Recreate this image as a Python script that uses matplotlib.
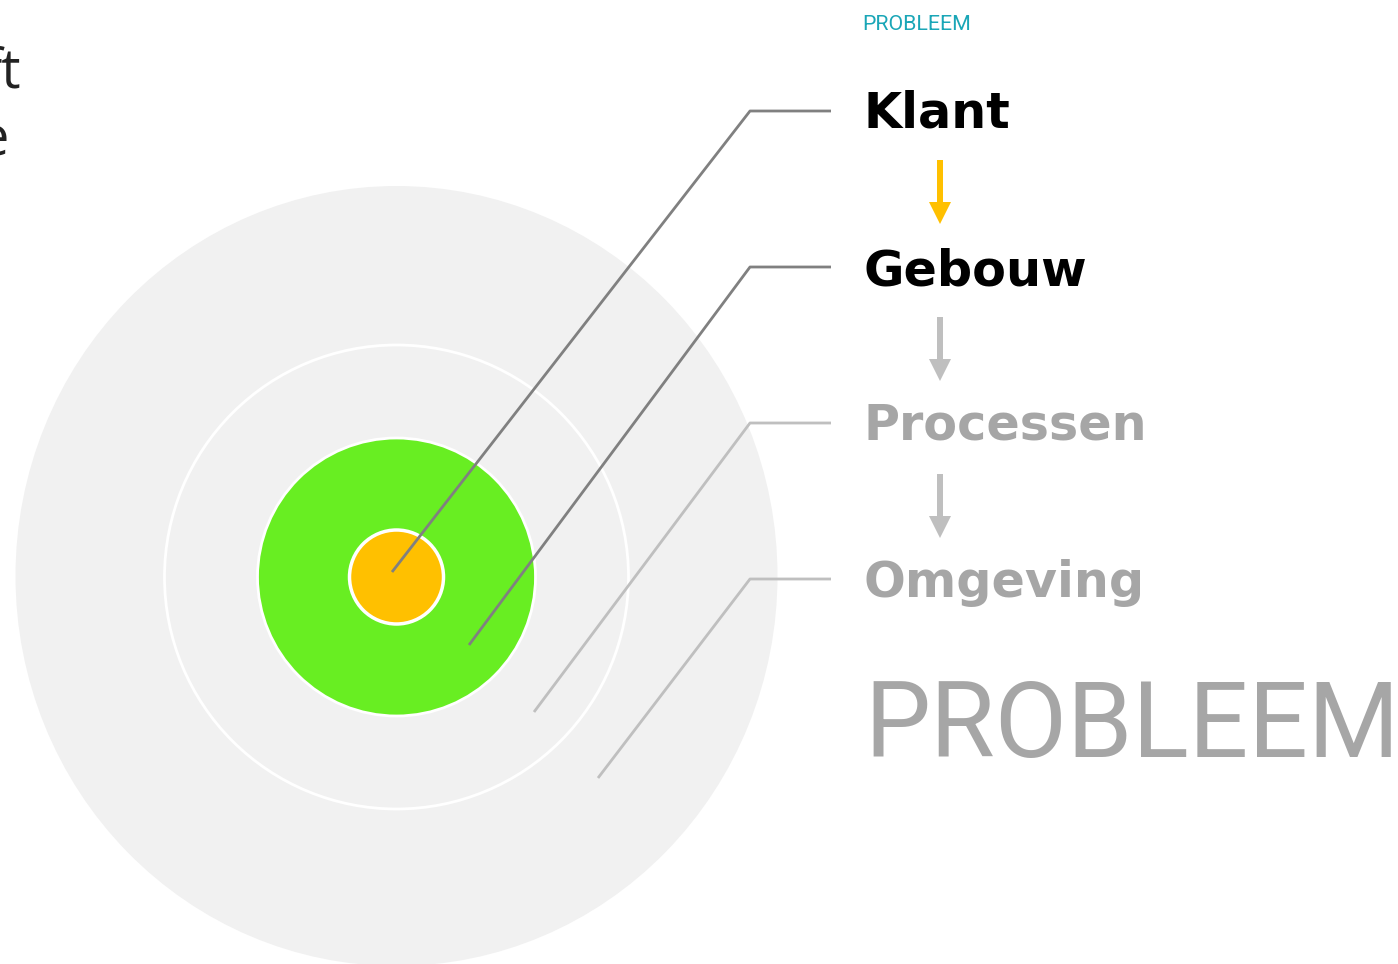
import matplotlib.pyplot as plt
from matplotlib.patches import Circle, Ellipse, FancyArrow

# ring layers from outside to inside
labels = ["Klant", "Gebouw", "Processen", "Omgeving"]
label_colors = ["#000000", "#000000", "#A6A6A6", "#A6A6A6"]
line_colors = ["#808080", "#808080", "#BFBFBF", "#BFBFBF"]
arrow_colors = ["#FFC000", "#BFBFBF", "#BFBFBF"]
ring_radius = [232, 139, 47]
ring_colors = ["#F1F1F1", "#68EE22", "#FFC000"]

cx, cy = 396.5, 577

fig = plt.figure(figsize=(13.98, 9.64), dpi=100)
ax = fig.add_axes([0, 0, 1, 1])
ax.set_xlim(0, 1398)
ax.set_ylim(964, 0)
ax.axis("off")

# outer grey disc
ax.add_patch(Ellipse((cx, 576), 762, 780, facecolor="#F1F1F1", edgecolor="none", zorder=1))
for r, c, lw in zip(ring_radius, ring_colors, [2, 2, 2.5]):
    ax.add_patch(Circle((cx, cy), r, facecolor=c, edgecolor="white", lw=lw, zorder=2))

# leader lines: start point inside ring, then elbow at x=750
starts = [(392, 572), (469, 645), (534, 712), (598, 778)]
label_y = [111, 267, 423, 579]
for (sx, sy), ly, lc in zip(starts, label_y, line_colors):
    ax.plot([sx, 750, 831], [sy, ly, ly], color=lc, lw=2, solid_capstyle="butt", zorder=3)

baselines = [128, 285, 440, 597]
for lab, by, col in zip(labels, baselines, label_colors):
    ax.text(863, by, lab, color=col, fontsize=35.5, fontweight="bold",
            family="DejaVu Sans", va="baseline", ha="left")

# arrows between labels
for i, ac in enumerate(arrow_colors):
    y0 = 160 + i * 157
    ax.add_patch(FancyArrow(940, y0, 0, 64, width=6, head_width=22, head_length=22,
                            length_includes_head=True, color=ac, lw=0, zorder=3))

ax.text(862, 30, "PROBLEEM", color="#1AA6B7", fontsize=15.4, family="Roboto", va="baseline")
ax.text(864, 757, "PROBLEEM", color="#A6A6A6", fontsize=75.5, family="Roboto", va="baseline")

# cut-off text at top left
ax.text(21, 88, "ft", color="#222222", fontsize=39, family="Open Sans",
        ha="right", va="baseline")
ax.text(9, 155, "e", color="#222222", fontsize=39, family="Open Sans",
        ha="right", va="baseline")

fig.savefig("out.png", dpi=100)
